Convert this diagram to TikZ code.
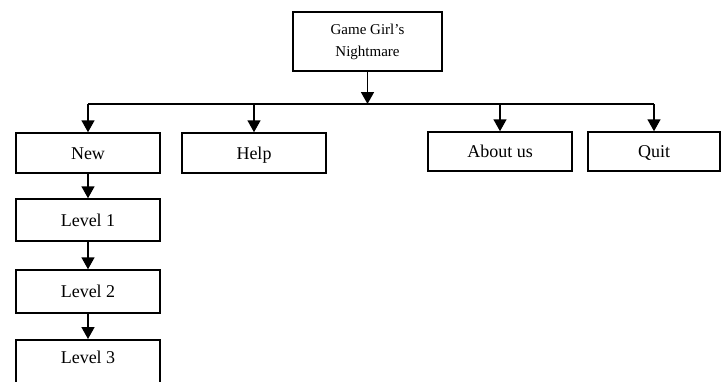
\documentclass[tikz,border=0pt]{standalone}
\usepackage{fontspec}
\setmainfont{Liberation Serif}
\usetikzlibrary{arrows.meta}
\begin{document}
\begin{tikzpicture}[x=1pt,y=-1pt,
  menubox/.style={draw,line width=1.5pt,minimum width=144pt,minimum height=40pt,inner sep=0pt,
    text height=13pt,text depth=1pt,font=\fontsize{18}{20}\selectfont},
  arr/.style={line width=1.6pt,-{Triangle[width=13pt,length=12pt]}}]
\clip (0,0) rectangle (722,381);
% title box and the menu row
\node[menubox,minimum width=149pt,minimum height=59pt,align=center,text height=,text depth=,font=\fontsize{15}{22}\selectfont] (game) at (367.5,41.5) {Game Girl's\\Nightmare};
\coordinate (bus) at (game.south |- 0,104);
\node[menubox] (new) at (88,153) {New};
\node[menubox] (help) at (254,153) {Help};
\node[menubox,minimum height=39pt] (about) at (500,151.5) {About us};
\node[menubox,minimum width=132pt,minimum height=39pt] (quit) at (654,151.5) {Quit};
\draw[arr] (game.south) -- (bus);
\draw[line width=1.6pt] (new.north |- bus) -- (quit.north |- bus);
\foreach \n in {new,help,about,quit} {
  \draw[arr] (\n.north |- bus) -- (\n.north);
}
% levels under New
\node[menubox,minimum height=42pt] (lvl1) at (88,220) {Level 1};
\node[menubox,minimum height=43pt] (lvl2) at (88,291.5) {Level 2};
\node[menubox,minimum height=43pt,anchor=north] (lvl3) at (88,339) {};
\node[menubox,draw=none,minimum height=0pt] (lvl3txt) at (88,357) {Level 3};
\draw[arr] (new) -- (lvl1);
\draw[arr] (lvl1) -- (lvl2);
\draw[arr] (lvl2) -- (lvl3);
\end{tikzpicture}
\end{document}
